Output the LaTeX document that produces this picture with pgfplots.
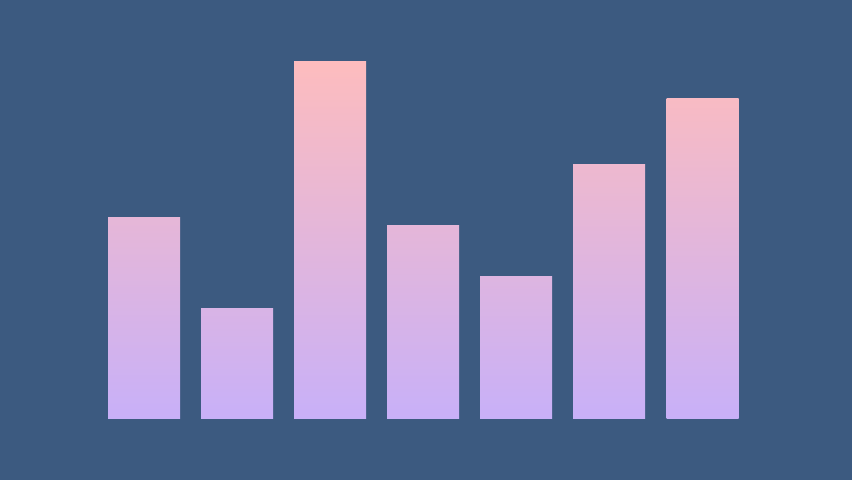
\documentclass[border=0pt]{standalone}
\usepackage{pgfplots}
\pgfplotsset{compat=1.18}
\definecolor{bgc}{HTML}{3C5A80}
\definecolor{pinkT}{HTML}{FDBCBE}
\definecolor{lavB}{HTML}{C8B0F8}
\begin{document}
\begin{tikzpicture}
\begin{axis}[
    scale only axis,
    width=852bp, height=480bp,
    xmin=0, xmax=852,
    ymin=-61, ymax=419,
    axis lines=none,
    ticks=none,
    axis background/.style={fill=bgc},
    bar width=72,
]
% top colour of each bar follows its height (tallest bar = full pink)
\addplot[ybar, bar shift=0pt, draw=none, bottom color=lavB, top color=pinkT!56!lavB] coordinates {(144,201)};
\addplot[ybar, bar shift=0pt, draw=none, bottom color=lavB, top color=pinkT!31!lavB] coordinates {(237,110)};
\addplot[ybar, bar shift=0pt, draw=none, bottom color=lavB, top color=pinkT!100!lavB] coordinates {(330,357)};
\addplot[ybar, bar shift=0pt, draw=none, bottom color=lavB, top color=pinkT!54!lavB] coordinates {(423,193)};
\addplot[ybar, bar shift=0pt, draw=none, bottom color=lavB, top color=pinkT!40!lavB] coordinates {(516,142)};
\addplot[ybar, bar shift=0pt, draw=none, bottom color=lavB, top color=pinkT!71!lavB] coordinates {(609,254)};
\addplot[ybar, bar shift=0pt, draw=none, bottom color=lavB, top color=pinkT!90!lavB] coordinates {(702.5,320)};
\end{axis}
\end{tikzpicture}
\end{document}
